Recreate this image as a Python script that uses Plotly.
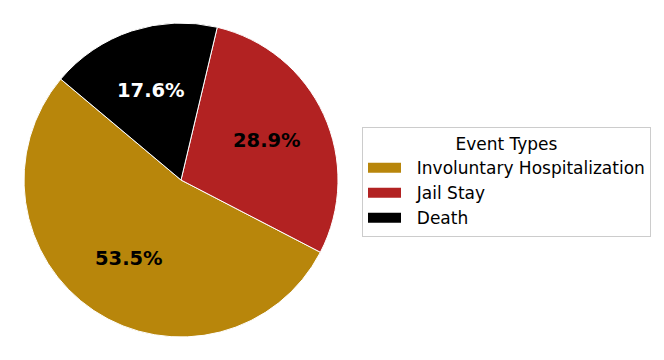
import math
import plotly.graph_objects as go

categories = ["Involuntary Hospitalization", "Jail Stay", "Death"]
shares = [53.5, 28.9, 17.6]
colors = ["#B8860B", "#B22222", "#000000"]
text_colors = ["black", "black", "white"]
labels_text = [f"{v:.1f}%" for v in shares]

W, H = 664, 360
OFF = 8  # page body margin offset
START_DEG = 140.0  # math angle where first slice begins (counterclockwise)
LABEL_R = 0.6

dom_x = [(24 - OFF) / W, (338 - OFF) / W]
dom_y = [(360 - 337 + OFF) / H, (360 - 23 + OFF) / H]

fig = go.Figure()
fig.add_trace(go.Pie(
    labels=categories,
    values=shares,
    textinfo="none",
    sort=False,
    direction="counterclockwise",
    rotation=90 - (START_DEG + 360 * shares[0] / sum(shares)),
    marker=dict(colors=colors, line=dict(color="white", width=1)),
    hoverinfo="label+percent",
    showlegend=False,
    domain=dict(x=dom_x, y=dom_y),
))

# percentage labels placed at 0.6 radius along each slice's mid-angle
cx_px = (dom_x[0] + dom_x[1]) / 2 * W
cy_px = (dom_y[0] + dom_y[1]) / 2 * H
r_px = min((dom_x[1] - dom_x[0]) * W, (dom_y[1] - dom_y[0]) * H) / 2
total = sum(shares)
ang = START_DEG
for txt, v, tc in zip(labels_text, shares, text_colors):
    span = 360 * v / total
    mid = math.radians(ang + span / 2)
    ang += span
    fig.add_annotation(
        x=(cx_px + LABEL_R * r_px * math.cos(mid)) / W,
        y=(cy_px + LABEL_R * r_px * math.sin(mid)) / H,
        xref="paper", yref="paper", text=txt, showarrow=False,
        xanchor="center", yanchor="middle",
        font=dict(family="DejaVu Sans", size=19.5, color=tc, weight="bold"),
    )

for cat, col in zip(categories, colors):
    fig.add_trace(go.Scatter(
        x=[None], y=[None], mode="lines", name="\u00a0\u00a0" + cat,
        line=dict(color=col, width=11),
        showlegend=True,
    ))

fig.update_layout(
    width=W, height=H,
    margin=dict(l=0, r=0, t=0, b=0),
    paper_bgcolor="white",
    plot_bgcolor="white",
    font=dict(family="DejaVu Sans", size=17, color="black"),
    xaxis=dict(visible=False),
    yaxis=dict(visible=False),
    legend=dict(
        title=dict(text="Event Types", side="top center", font=dict(size=17)),
        x=(362 - OFF) / W, y=(360 - 127 + OFF) / H, xanchor="left", yanchor="top",
        bordercolor="#cccccc", borderwidth=1, bgcolor="white",
        font=dict(size=17),
        itemwidth=33,
        tracegroupgap=0,
    ),
)

fig.write_html("out.html")
